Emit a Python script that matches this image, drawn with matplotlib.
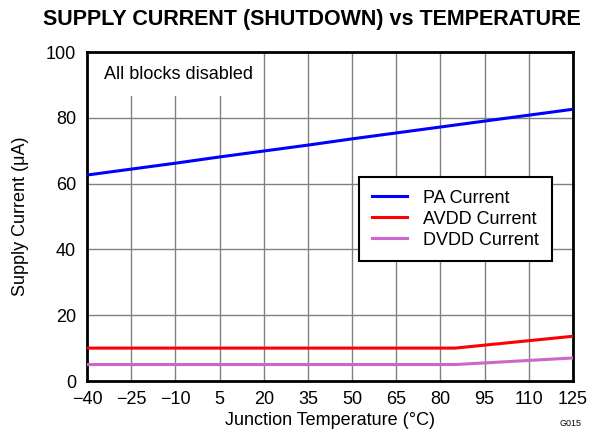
import matplotlib
matplotlib.use('Agg')
import matplotlib.pyplot as plt

plt.rcParams['font.family'] = ['Liberation Sans', 'DejaVu Sans']

temps = [-40, -25, -10, 5, 20, 35, 50, 65, 80, 95, 110, 125]
pa_current = [62.6, 64.4, 66.2, 68.1, 69.9, 71.7, 73.6, 75.4, 77.2, 79.0, 80.8, 82.6]

temps_lo = [-40, 85, 125]
avdd_current = [10.0, 10.0, 13.6]
dvdd_current = [5.0, 5.0, 7.0]

xticks = [-40, -25, -10, 5, 20, 35, 50, 65, 80, 95, 110, 125]
xtick_labels = ['\u221240', '\u221225', '\u221210', '5', '20', '35', '50', '65', '80', '95', '110', '125']
yticks = [0, 20, 40, 60, 80, 100]

fig = plt.figure(figsize=(5.97, 4.33), dpi=100)
ax = fig.add_axes([87/597, 1-381/433, 486/597, 329/433])

ax.plot(temps, pa_current, color='#0000ff', lw=2.2, label='PA Current', zorder=3)
ax.plot(temps_lo, avdd_current, color='#ff0000', lw=2.2, label='AVDD Current', zorder=3)
ax.plot(temps_lo, dvdd_current, color='#cc66cc', lw=2.2, label='DVDD Current', zorder=3)

ax.set_xlim(-40, 125)
ax.set_ylim(0, 100)
ax.set_xticks(xticks)
ax.set_xticklabels(xtick_labels)
ax.set_yticks(yticks)
ax.tick_params(length=0, labelsize=13)
ax.tick_params(axis='x', pad=7)
ax.tick_params(axis='y', pad=8)
ax.grid(True, color='#808080', lw=1)
ax.set_axisbelow(True)
for s in ax.spines.values():
    s.set_linewidth(2)

ax.set_xlabel('Junction Temperature (\u00b0C)', fontsize=13, labelpad=3)
ax.set_ylabel('Supply Current (\u03bcA)', fontsize=13, labelpad=12)

ax.text(-34.3, 93.2, 'All blocks disabled', fontsize=13, va='center', ha='left', zorder=4)
# white patch covering top-left grid region
ax.add_patch(plt.Rectangle((-40, 86.6), 59.3, 13.4, fc='white', ec='none', zorder=2))

leg = ax.legend(loc='upper left', bbox_to_anchor=((359-87)/486, (381-177)/329),
                fontsize=13, frameon=True, fancybox=False, edgecolor='black',
                framealpha=1, handlelength=1.95, handletextpad=0.9, borderpad=0.7,
                labelspacing=0.22, borderaxespad=0)
leg.get_frame().set_linewidth(1.5)
leg.set_zorder(5)

fig.suptitle('SUPPLY CURRENT (SHUTDOWN) vs TEMPERATURE', fontsize=15.5, fontweight='bold',
             x=312/597, y=1-20/433, va='center')
fig.text(582/597, 1-424/433, 'G015', fontsize=6.5, ha='right', va='center')

fig.savefig('out.png', dpi=100)
